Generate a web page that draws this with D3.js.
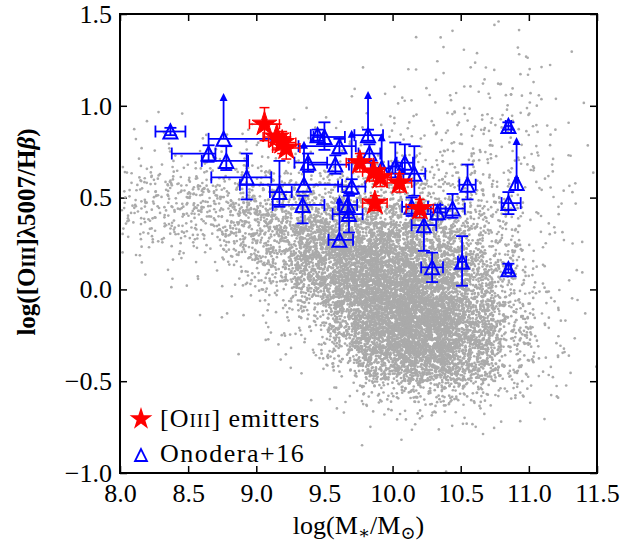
<!DOCTYPE html>
<html>
<head>
<meta charset="utf-8">
<script src="https://cdn.jsdelivr.net/npm/d3@7"></script>
<style>
  body { margin: 0; background: #fff; }
  svg text { font-family: "Liberation Serif", "DejaVu Serif", serif; fill: #000; }
</style>
</head>
<body>
<svg id="chart"></svg>
<script>
// ---- axes ----
const massTicks = [8.0, 8.5, 9.0, 9.5, 10.0, 10.5, 11.0, 11.5];
const ratioTicks = [-1.0, -0.5, 0.0, 0.5, 1.0, 1.5];

// ---- SDSS background galaxies, counted per cell ----
// columns: left edge of each 0.25 dex mass bin; rows: bottom edge of each 0.125 dex ratio bin
const gridMass = [8.0, 8.25, 8.5, 8.75, 9.0, 9.25, 9.5, 9.75, 10.0, 10.25, 10.5, 10.75, 11.0, 11.25];
const gridRatio = [1.375, 1.25, 1.125, 1.0, 0.875, 0.75, 0.625, 0.5, 0.375, 0.25,
                   0.125, 0.0, -0.125, -0.25, -0.375, -0.5, -0.625, -0.75, -0.875, -1.0];
const gridCounts = [
  [ 0,  0,  0,  0,   0,   0,   0,   0,   0,   1,   1,  2,  0, 0],
  [ 0,  0,  0,  0,   0,   0,   0,   0,   1,   2,   2,  3,  1, 0],
  [ 0,  0,  0,  0,   0,   0,   0,   1,   2,   3,   5,  5,  2, 0],
  [ 0,  0,  0,  0,   0,   0,   1,   2,   4,   7,   8,  8,  4, 1],
  [ 1,  2,  1,  1,   1,   1,   2,   3,   6,   9,  11,  9,  5, 1],
  [ 2,  3,  4,  4,   4,   4,   4,   5,   8,  12,  14, 11,  6, 2],
  [ 6,  8, 12, 14,  14,  12,  11,  11,  14,  18,  18, 12,  6, 2],
  [25, 35, 40, 44,  46,  44,  40,  38,  36,  32,  24, 14,  6, 2],
  [30, 42, 55, 75,  95, 110, 115, 110,  90,  65,  42, 16,  6, 2],
  [16, 22, 32, 65, 110, 175, 215, 210, 175, 125,  70, 24,  7, 2],
  [ 6,  5,  7, 32,  90, 210, 300, 330, 280, 185, 100, 30,  8, 2],
  [ 1,  2,  3, 11,  40, 150, 310, 400, 380, 260, 135, 36,  9, 2],
  [ 0,  0,  1,  3,  12,  50, 220, 430, 450, 330, 170, 45, 10, 2],
  [ 0,  0,  0,  1,   5,  22, 135, 380, 460, 380, 195, 52, 12, 3],
  [ 0,  0,  0,  1,   2,  10,  70, 270, 400, 370, 190, 52, 12, 2],
  [ 0,  0,  0,  0,   1,   3,  24, 120, 220, 220, 130, 42,  9, 1],
  [ 0,  0,  0,  0,   0,   1,   6,  22,  40,  48,  35, 14,  4, 0],
  [ 0,  0,  0,  0,   0,   0,   1,   5,   8,  10,   7,  3,  1, 0],
  [ 0,  0,  0,  0,   0,   0,   0,   1,   2,   1,   1,  0,  0, 0],
  [ 0,  0,  0,  0,   0,   0,   0,   0,   1,   1,   0,  0,  0, 0]
];

// ---- Onodera+16 ----
const onoMass  = [8.37, 8.76, 8.65, 8.78, 8.93, 9.17, 9.35, 9.45, 9.50, 9.38, 9.58, 9.34, 9.67, 9.68, 9.61, 9.70, 9.61,
                  9.82, 9.83, 9.92, 10.02, 10.09, 10.16, 10.14, 10.23, 10.29, 10.33, 10.44, 10.55, 10.51, 10.85, 10.85, 10.85, 10.91];
const onoRatio = [0.86, 0.82, 0.74, 0.70, 0.61, 0.53, 0.57, 0.84, 0.83, 0.69, 0.68, 0.46, 0.46, 0.41, 0.27, 0.56, 0.78,
                  0.84, 0.74, 0.66, 0.67, 0.69, 0.63, 0.45, 0.35, 0.12, 0.42, 0.44, 0.57, 0.15, 0.47, 0.11, 0.89, 0.58];
const onoMassLo = [0.11, 0.11, 0.27, 0.18, 0.26, 0.07, 0.47, 0.05, 0.08, 0.10, 0.20, 0.22, 0.07, 0.12, 0.08, 0.10, 0.30,
                   0.10, 0.08, 0.08, 0.05, 0.06, 0.08, 0.07, 0.09, 0.08, 0.05, 0.09, 0.06, 0.03, 0.05, 0.02, 0.02, 0.01];
const onoMassHi = [0.11, 0.35, 0.05, 0.16, 0.18, 0.09, 0.28, 0.05, 0.15, 0.14, 0.10, 0.16, 0.07, 0.10, 0.10, 0.10, 0.12,
                   0.11, 0.08, 0.08, 0.05, 0.06, 0.08, 0.12, 0.09, 0.08, 0.06, 0.09, 0.06, 0.03, 0.09, 0.02, 0.02, 0.01];
const onoRatioLo = [0.02, 0, 0.045, 0.05, 0.12, 0.08, 0, 0.03, 0.07, 0.05, 0.05, 0.10, 0.07, 0.10, 0, 0.04, 0.04,
                    0.03, 0.05, 0, 0.06, 0.06, 0.12, 0.05, 0.14, 0.08, 0.04, 0.05, 0.08, 0.13, 0.06, 0.02, 0.02, 0];
const onoRatioHi = [0.02, 0, 0.045, 0.08, 0.13, 0.17, 0, 0.03, 0.08, 0.05, 0.05, 0.05, 0.07, 0.10, 0, 0.04, 0.04,
                    0.03, 0.05, 0, 0.13, 0.10, 0.15, 0.05, 0.06, 0.08, 0.04, 0.08, 0.11, 0.14, 0.06, 0.03, 0.02, 0];
// lower limits: arrow drawn up to this value
const onoLimitTo = [null, 1.07, null, null, null, null, 0.81, null, null, null, null, null, null, null, 0.51, 0.87, null,
                    1.08, null, 0.85, null, null, null, null, null, null, null, null, null, null, null, null, null, 0.83];

// ---- [OIII] emitters ----
const emitMass  = [9.06, 9.15, 9.19, 9.22, 9.76, 9.86, 9.91, 10.05, 9.87, 10.20];
const emitRatio = [0.90, 0.83, 0.80, 0.77, 0.69, 0.64, 0.61, 0.58, 0.47, 0.44];
const emitMassErr  = [0.11, 0.10, 0.10, 0.10, 0.10, 0.08, 0.08, 0.09, 0.09, 0.10];
const emitRatioErr = [0.09, 0.07, 0.06, 0.06, 0.05, 0.05, 0.05, 0.05, 0.04, 0.05];

class MassExcitationPlot {

  constructor(_config) {
    this.config = {
      parentElement: _config.parentElement,
      containerWidth: _config.containerWidth || 621,
      containerHeight: _config.containerHeight || 548,
      margin: _config.margin || {top: 14, right: 24, bottom: 75, left: 120}
    };
    this.initVis();
  }

  initVis() {
    let vis = this;
    vis.width = vis.config.containerWidth - vis.config.margin.left - vis.config.margin.right;
    vis.height = vis.config.containerHeight - vis.config.margin.top - vis.config.margin.bottom;

    vis.xScale = d3.scaleLinear().domain([8.0, 11.5]).range([0, vis.width]);
    vis.yScale = d3.scaleLinear().domain([-1.0, 1.5]).range([vis.height, 0]);

    vis.svg = d3.select(vis.config.parentElement)
        .attr('width', vis.config.containerWidth)
        .attr('height', vis.config.containerHeight);

    vis.svg.append('defs').append('clipPath').attr('id', 'plot-clip')
      .append('rect').attr('width', vis.width).attr('height', vis.height);

    vis.chart = vis.svg.append('g')
        .attr('transform', `translate(${vis.config.margin.left},${vis.config.margin.top})`);

    const fmt = d => d3.format('.1f')(d).replace('-', '\u2212');

    // inward ticks on all four sides, labels only bottom/left
    vis.chart.append('g')
        .attr('transform', `translate(0,${vis.height})`)
        .call(d3.axisBottom(vis.xScale).tickValues(massTicks).tickSize(-7).tickPadding(11).tickFormat(fmt))
        .call(g => g.select('.domain').remove());
    vis.chart.append('g')
        .call(d3.axisLeft(vis.yScale).tickValues(ratioTicks).tickSize(-7).tickPadding(8).tickFormat(fmt))
        .call(g => g.select('.domain').remove());
    vis.chart.append('g')
        .call(d3.axisTop(vis.xScale).tickValues(massTicks).tickSize(-7).tickFormat(''))
        .call(g => g.select('.domain').remove());
    vis.chart.append('g')
        .attr('transform', `translate(${vis.width},0)`)
        .call(d3.axisRight(vis.yScale).tickValues(ratioTicks).tickSize(-7).tickFormat(''))
        .call(g => g.select('.domain').remove());

    vis.chart.selectAll('.tick line').attr('stroke', '#000').attr('stroke-width', 1.5);
    vis.chart.selectAll('.tick text').style('font-size', '26px').attr('fill', '#000');

    vis.cloudG = vis.chart.append('g').attr('clip-path', 'url(#plot-clip)');
    vis.onoG = vis.chart.append('g');
    vis.emitG = vis.chart.append('g');

    vis.chart.append('rect')
        .attr('width', vis.width).attr('height', vis.height)
        .attr('fill', 'none').attr('stroke', '#000').attr('stroke-width', 2);

    // axis titles
    const xt = vis.svg.append('text')
        .attr('x', vis.config.margin.left + vis.width / 2).attr('y', 534)
        .attr('text-anchor', 'middle').style('font-size', '26px');
    xt.append('tspan').text('log(M');
    xt.append('tspan').attr('baseline-shift', '-25%').style('font-size', '18px').text('\u2217');
    xt.append('tspan').text('/M');
    xt.append('tspan').attr('baseline-shift', '-25%').style('font-size', '18px').text('\u2299');
    xt.append('tspan').text(')');

    const yt = vis.svg.append('text')
        .attr('transform', 'translate(35,232) rotate(-90)')
        .attr('text-anchor', 'middle').style('font-size', '25px').style('font-weight', 'bold');
    yt.append('tspan').text('log([O');
    yt.append('tspan').style('font-size', '18px').text('III');
    yt.append('tspan').text(']\u03bb5007/H');
    yt.append('tspan').style('font-style', 'italic').text('\u03b2');
    yt.append('tspan').text(')');

    vis.renderVis();
  }

  renderVis() {
    let vis = this;
    const x = vis.xScale, y = vis.yScale;

    // place each cell's count inside (and slightly past) its cell; the position
    // inside the cell comes from a fixed hash so the picture is the same every run
    const hash = n => { const s = Math.sin(n * 12.9898 + 78.233) * 43758.5453; return s - Math.floor(s); };
    const spread = (a, b) => (a + b) / 2 * 1.7 - 0.35;   // triangular, peaks at cell centre
    const pts = [];
    let g = 0;
    gridCounts.forEach((row, r) => row.forEach((n, c) => {
      for (let k = 0; k < n; k++, g++) {
        const u = spread(hash(4 * g + 1), hash(4 * g + 2));
        const v = spread(hash(4 * g + 3), hash(4 * g + 4));
        pts.push([gridMass[c] + u * 0.25, gridRatio[r] + v * 0.125]);
      }
    }));
    vis.cloudG.selectAll('circle')
      .data(pts)
      .join('circle')
        .attr('cx', d => x(d[0]))
        .attr('cy', d => y(d[1]))
        .attr('r', 1.35)
        .attr('fill', '#aaaaaa');

    // Onodera+16 error bars
    const blue = '#0000ff', cap = 6;
    onoMass.forEach((m, i) => {
      const cx = x(m), cy = y(onoRatio[i]);
      const bar = vis.onoG.append('g').attr('stroke', blue).attr('stroke-width', 1.8);
      const x0 = x(m - onoMassLo[i]), x1 = x(m + onoMassHi[i]);
      if (x1 - x0 > 0.5) {
        bar.append('line').attr('x1', x0).attr('x2', x1).attr('y1', cy).attr('y2', cy);
        [x0, x1].forEach(xx => bar.append('line').attr('x1', xx).attr('x2', xx).attr('y1', cy - cap).attr('y2', cy + cap));
      }
      if (onoRatioLo[i] + onoRatioHi[i] > 0) {
        const y0 = y(onoRatio[i] - onoRatioLo[i]), y1 = y(onoRatio[i] + onoRatioHi[i]);
        bar.append('line').attr('x1', cx).attr('x2', cx).attr('y1', y0).attr('y2', y1);
        [y0, y1].forEach(yy => bar.append('line').attr('x1', cx - cap).attr('x2', cx + cap).attr('y1', yy).attr('y2', yy));
      }
      if (onoLimitTo[i] !== null) {
        const yt = y(onoLimitTo[i]);
        bar.append('line').attr('x1', cx).attr('x2', cx).attr('y1', cy).attr('y2', yt + 4);
        vis.onoG.append('path')
            .attr('d', `M${cx},${yt} L${cx - 4},${yt + 8} L${cx + 4},${yt + 8} Z`)
            .attr('fill', blue);
      }
    });
    const tri = s => `M0,${-s} L${-s},${s} L${s},${s} Z`;
    vis.onoG.selectAll('.ono')
      .data(onoMass)
      .join('path')
        .attr('class', 'ono')
        .attr('d', tri(7))
        .attr('transform', (d, i) => `translate(${x(d)},${y(onoRatio[i])})`)
        .attr('fill', 'none')
        .attr('stroke', blue)
        .attr('stroke-width', 2);

    // [OIII] emitters
    const red = '#ff0000';
    emitMass.forEach((m, i) => {
      const cx = x(m), cy = y(emitRatio[i]);
      const bar = vis.emitG.append('g').attr('stroke', red).attr('stroke-width', 1.5);
      const x0 = x(m - emitMassErr[i]), x1 = x(m + emitMassErr[i]);
      const y0 = y(emitRatio[i] - emitRatioErr[i]), y1 = y(emitRatio[i] + emitRatioErr[i]);
      bar.append('line').attr('x1', x0).attr('x2', x1).attr('y1', cy).attr('y2', cy);
      bar.append('line').attr('x1', cx).attr('x2', cx).attr('y1', y0).attr('y2', y1);
      [x0, x1].forEach(xx => bar.append('line').attr('x1', xx).attr('x2', xx).attr('y1', cy - 5).attr('y2', cy + 5));
      [y0, y1].forEach(yy => bar.append('line').attr('x1', cx - 5).attr('x2', cx + 5).attr('y1', yy).attr('y2', yy));
    });
    const star = d3.symbol().type(d3.symbolStar).size(190);
    vis.emitG.selectAll('.emit')
      .data(emitMass)
      .join('path')
        .attr('class', 'emit')
        .attr('d', star)
        .attr('transform', (d, i) => `translate(${x(d)},${y(emitRatio[i])})`)
        .attr('fill', red)
        .attr('stroke', red)
        .attr('stroke-width', 1)
        .attr('stroke-linejoin', 'miter');

    // legend
    const lg = vis.svg.append('g');
    lg.append('path').attr('d', d3.symbol().type(d3.symbolStar).size(160))
        .attr('transform', 'translate(141,419)').attr('fill', red);
    const l1 = lg.append('text').attr('x', 160).attr('y', 427).style('font-size', '26px').style('letter-spacing', '1px');
    l1.append('tspan').text('[O');
    l1.append('tspan').style('font-size', '19px').text('III');
    l1.append('tspan').text('] emitters');
    lg.append('path').attr('d', tri(6)).attr('transform', 'translate(141,455)')
        .attr('fill', 'none').attr('stroke', blue).attr('stroke-width', 1.8);
    lg.append('text').attr('x', 160).attr('y', 462).style('font-size', '26px').style('letter-spacing', '1.5px')
        .text('Onodera+16');
  }
}

new MassExcitationPlot({ parentElement: '#chart' });
</script>
</body>
</html>
